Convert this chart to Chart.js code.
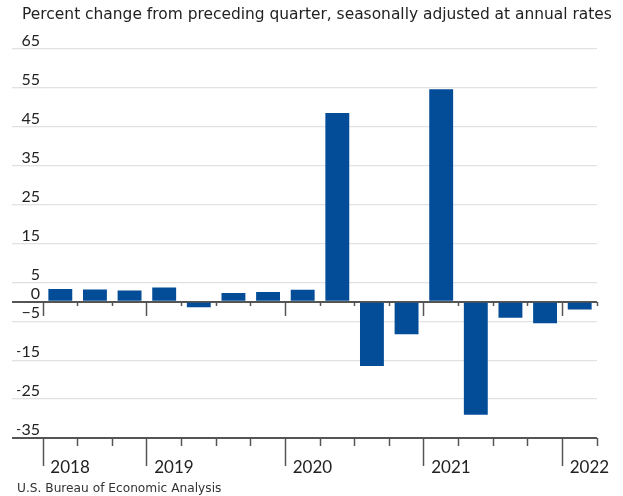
<!DOCTYPE html>
<html><head><meta charset="utf-8">
<script src="https://cdn.jsdelivr.net/npm/chart.js@4.4.0/dist/chart.umd.min.js"></script>
<style>html,body{margin:0;padding:0;background:#fff}#wrap{width:623px;height:496px;position:relative}</style>
</head><body><div id="wrap"><canvas id="c"></canvas></div>
<script>
const titleText = 'Percent change from preceding quarter, seasonally adjusted at annual rates';
const sourceText = 'U.S. Bureau of Economic Analysis';
const quarters = ['2018Q2','2018Q3','2018Q4','2019Q1','2019Q2','2019Q3','2019Q4','2020Q1','2020Q2','2020Q3','2020Q4','2021Q1','2021Q2','2021Q3','2021Q4','2022Q1'];
const values = [3.3, 3.2, 2.9, 3.7, -1.4, 2.3, 2.5, 3.1, 48.5, -16.5, -8.3, 54.6, -29.0, -4.1, -5.5, -2.0];
const yTicks = [65, 55, 45, 35, 25, 15, 5, 0, -5, -15, -25, -35];

const FONT = 'Lato';
const WIDE_FONT = '"DejaVu Sans"';
const BAR = '#034d98';
const DARK = '#555555';
const LIGHT = '#e2e2e2';

function isMajor(i) {
  return i !== undefined && (i === 0 || quarters[i].endsWith('Q1'));
}
function tickAxis(yPos, len, major) {
  return {
    type: 'category', axis: 'x', position: {y: yPos}, offset: true,
    grid: {
      offset: true, drawOnChartArea: false, drawTicks: true, tickLength: len, tickWidth: 1.5,
      tickColor: ctx => (isMajor(ctx.index) === major) ? DARK : 'rgba(0,0,0,0)'
    },
    ticks: {display: false},
    border: {display: false}
  };
}
const isDark = ctx => ctx.tick && (ctx.tick.value === 0 || ctx.tick.value === -35);

new Chart(document.getElementById('c'), {
  type: 'bar',
  data: {
    labels: quarters,
    datasets: [{
      data: values,
      backgroundColor: BAR,
      borderWidth: 0,
      categoryPercentage: 1,
      barPercentage: 0.69
    }]
  },
  options: {
    responsive: true,
    maintainAspectRatio: false,
    animation: false,
    layout: {padding: {left: 17, right: 6, top: 0, bottom: 0}},
    plugins: {
      legend: {display: false},
      tooltip: {enabled: false},
      title: {
        display: true, text: titleText, align: 'center', color: '#222',
        font: {family: WIDE_FONT, size: 15.45, weight: 'normal'},
        padding: {top: 6, bottom: 24.3}
      },
      subtitle: {
        display: true, text: sourceText, align: 'start', position: 'bottom', color: '#333',
        font: {family: WIDE_FONT, size: 12.2, weight: 'normal'},
        padding: {top: 0, bottom: 0}
      }
    },
    scales: {
      x: {
        type: 'category', position: 'bottom', offset: true,
        grid: {display: false},
        border: {display: false},
        ticks: {
          autoSkip: false, maxRotation: 0, minRotation: 0, align: 'start',
          labelOffset: -10, padding: 11, color: '#222',
          font: {family: FONT, size: 17},
          callback: function(v, i) { return isMajor(i) ? quarters[i].slice(0, 4) : ''; }
        },
        afterFit: s => { s.height = 43.3; s.paddingLeft = 0; s.paddingRight = 0; }
      },
      xMajBot: tickAxis(-35, 28, true),
      xMinBot: tickAxis(-35, 8, false),
      xMajZero: tickAxis(0, 14, true),
      xMinZero: tickAxis(0, 4, false),
      y: {
        type: 'linear', position: 'left', min: -35, max: 65,
        afterBuildTicks: s => { s.ticks = yTicks.map(v => ({value: v})); },
        grid: {
          drawTicks: true, tickLength: 31,
          color: ctx => isDark(ctx) ? DARK : LIGHT,
          tickColor: ctx => isDark(ctx) ? DARK : LIGHT,
          lineWidth: ctx => isDark(ctx) ? 2 : 1.3,
          tickWidth: ctx => isDark(ctx) ? 2 : 1.3
        },
        border: {display: false},
        ticks: {
          padding: -28, labelOffset: -8, color: '#222',
          font: {family: FONT, size: 16},
          callback: v => String(v).replace('-', '\u2212')
        },
        afterFit: s => { s.width = 26; s.paddingTop = 0; s.paddingBottom = 0; }
      },
      yR: {
        type: 'linear', position: 'right', display: true,
        grid: {display: false}, border: {display: false}, ticks: {display: false},
        afterFit: s => { s.width = 20; }
      }
    }
  }
});
</script>
</body></html>
